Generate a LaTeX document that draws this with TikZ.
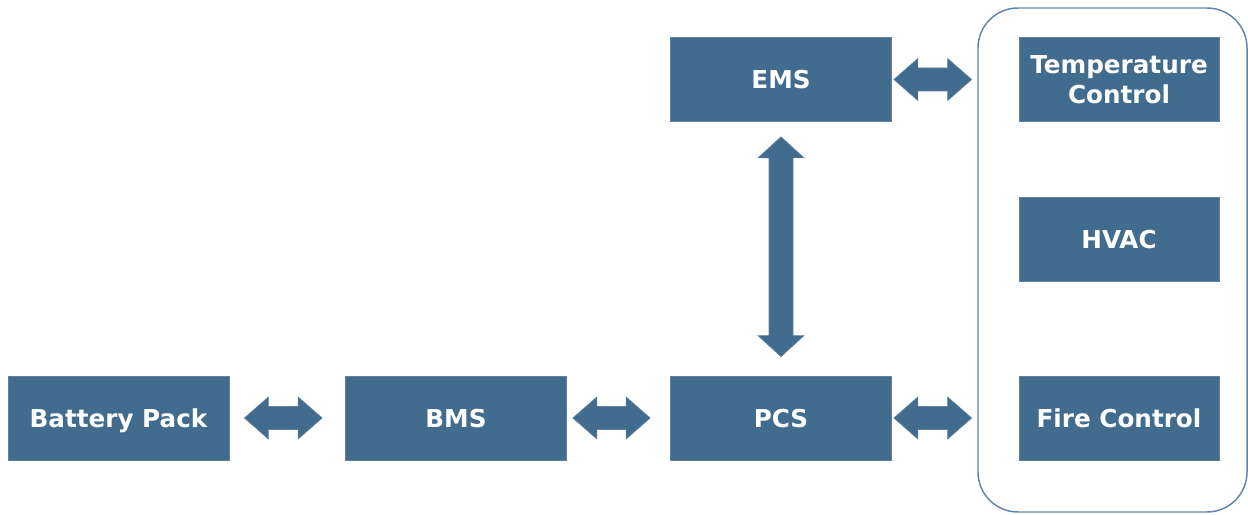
\documentclass[tikz,border=0pt]{standalone}
\usepackage{fontspec}
\setmainfont{DejaVu Sans}
\definecolor{essblue}{RGB}{66,108,142}
\definecolor{essedge}{RGB}{96,128,156}
\definecolor{essframe}{RGB}{98,134,168}
\usetikzlibrary{calc}
\usetikzlibrary{positioning}
\tikzset{
  block/.style={fill=essblue, draw=essedge, line width=0.6pt, text=white,
    font=\bfseries\fontsize{18.5}{22}\selectfont, align=center,
    minimum width=165.75pt, minimum height=63pt, inner sep=0pt,
    text depth=0pt},
  smallblock/.style={block, minimum width=150pt},
  fatarrow/.style={fill=essblue, draw=essedge, line width=0.5pt, line join=miter}
}
% horizontal double arrow between two coordinates
\newcommand{\harrow}[2]{%
  \draw[fatarrow] (#1) -- ($(#1)+(24,21)$) -- ($(#1)+(24,11.5)$)
    -- ($(#2)+(-24,11.5)$) -- ($(#2)+(-24,21)$) -- (#2)
    -- ($(#2)+(-24,-21)$) -- ($(#2)+(-24,-11.5)$)
    -- ($(#1)+(24,-11.5)$) -- ($(#1)+(24,-21)$) -- cycle;}
% vertical double arrow, #1 on top
\newcommand{\varrow}[2]{%
  \draw[fatarrow] (#1) -- ($(#1)+(23,-21)$) -- ($(#1)+(12,-21)$)
    -- ($(#2)+(12,21)$) -- ($(#2)+(23,21)$) -- (#2)
    -- ($(#2)+(-23,21)$) -- ($(#2)+(-12,21)$)
    -- ($(#1)+(-12,-21)$) -- ($(#1)+(-23,-21)$) -- cycle;}

\begin{document}
\begin{tikzpicture}[x=0.75pt, y=0.75pt]
  \useasboundingbox (0,0) rectangle (1248,514);

  % auxiliary systems frame
  \draw [essframe, line width=1.1pt, rounded corners=30pt] (978,2) rectangle (1247,506);

  % main chain
  \node [block] (bat) at (118.5,96) {Battery Pack};
  \node [block] (bms) at (456,96) {BMS};
  \node [block] (pcs) at (781,96) {PCS};
  \node [block] (ems) at (781,434.5) {EMS};

  % auxiliary systems
  \node [smallblock] (tc) at (1119,434.5) {Temperature\\Control};
  \node [smallblock] (hvac) at (1119,275) {HVAC};
  \node [smallblock] (fc) at (1119,96) {Fire Control};

  % arrow end points
  \coordinate (a1) at ($(bat.east)+(15,0)$);
  \coordinate (a2) at ($(bms.west)+(-23,0)$);
  \coordinate (b1) at ($(bms.east)+(6,0)$);
  \coordinate (b2) at ($(pcs.west)+(-20,0)$);
  \coordinate (c1) at ($(pcs.east)+(2,0)$);
  \coordinate (c2) at ($(fc.west)+(-47,0)$);
  \coordinate (d1) at ($(ems.east)+(2,0)$);
  \coordinate (d2) at ($(tc.west)+(-47,0)$);
  \coordinate (e1) at ($(ems.south)+(0,-15)$);
  \coordinate (e2) at ($(pcs.north)+(0,19)$);

  \harrow{a1}{a2}
  \harrow{b1}{b2}
  \harrow{c1}{c2}
  \harrow{d1}{d2}
  \varrow{e1}{e2}

\end{tikzpicture}
\end{document}
